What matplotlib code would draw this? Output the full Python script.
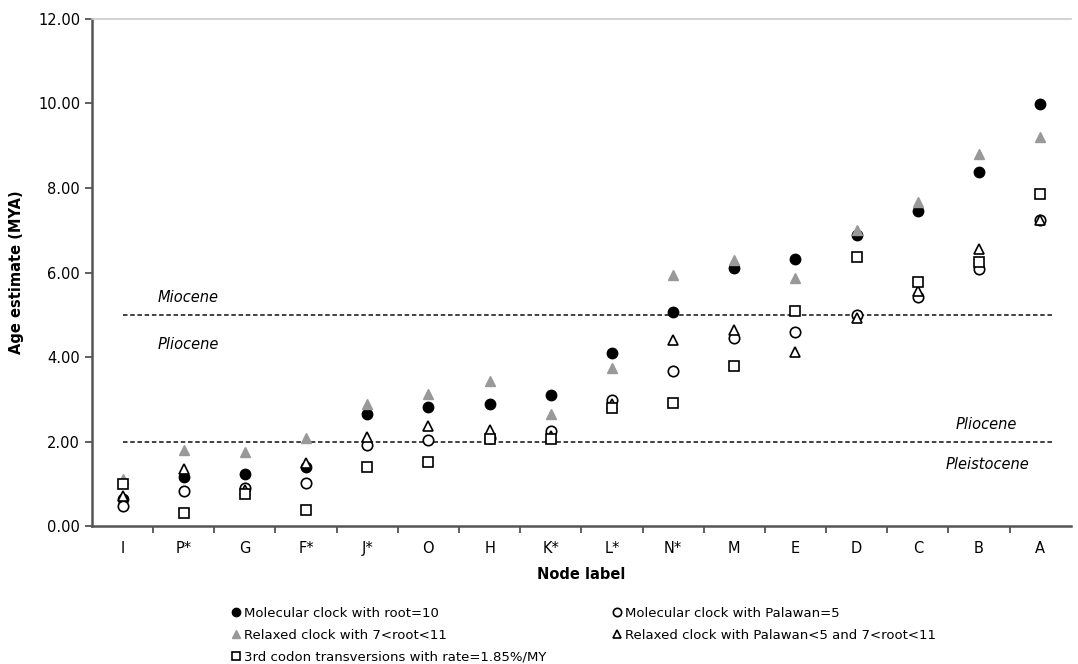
import numpy as np
import matplotlib
matplotlib.use("Agg")
import matplotlib.pyplot as plt
from matplotlib.lines import Line2D

nodes = ["I", "P*", "G", "F*", "J*", "O", "H", "K*", "L*", "N*", "M", "E", "D", "C", "B", "A"]

# age estimates (MYA)
mol_root10 = [0.64, 1.16, 1.24, 1.39, 2.64, 2.82, 2.88, 3.10, 4.10, 5.07, 6.11, 6.32, 6.88, 7.46, 8.39, 9.99]
mol_palawan5 = [0.47, 0.84, 0.90, 1.02, 1.91, 2.03, 2.09, 2.24, 2.98, 3.68, 4.44, 4.59, 5.00, 5.42, 6.09, 7.25]
relaxed_root = [1.11, 1.80, 1.75, 2.09, 2.89, 3.13, 3.43, 2.64, 3.73, 5.93, 6.29, 5.86, 7.01, 7.68, 8.80, 9.20]
relaxed_palawan = [0.72, 1.34, 0.86, 1.50, 2.10, 2.36, 2.27, 2.12, 2.88, 4.41, 4.65, 4.12, 4.93, 5.56, 6.56, 7.25]
codon3 = [0.99, 0.31, 0.76, 0.38, 1.40, 1.51, 2.06, 2.05, 2.80, 2.92, 3.78, 5.08, 6.37, 5.78, 6.26, 7.86]

boundaries = [5.0, 2.0]

fig = plt.figure(figsize=(10.78, 6.64), dpi=100)
ax = fig.add_axes([0.0853, 0.2078, 0.908, 0.7636])

x = np.arange(len(nodes))
ms = 7.5
ax.plot(x, mol_root10, "o", color="black", ms=ms, zorder=3)
ax.plot(x, relaxed_root, "^", color="#999999", mec="#999999", ms=ms, zorder=3)
ax.plot(x, mol_palawan5, "o", mfc="white", mec="black", mew=1.2, ms=ms, zorder=4)
ax.plot(x, relaxed_palawan, "^", mfc="white", mec="black", mew=1.2, ms=ms, zorder=4)
ax.plot(x, codon3, "s", mfc="white", mec="black", mew=1.2, ms=ms - 0.5, zorder=4)

# epoch boundaries
for b in boundaries:
    ax.plot([0.0, 15.2], [b, b], linestyle=(0, (2.5, 1.5)), color="#333333", lw=1.3, zorder=2)

ax.text(0.58, 5.4, "Miocene", style="italic", fontsize=10.5, va="center")
ax.text(0.58, 4.3, "Pliocene", style="italic", fontsize=10.5, va="center")
ax.text(13.62, 2.4, "Pliocene", style="italic", fontsize=10.5, va="center")
ax.text(13.45, 1.45, "Pleistocene", style="italic", fontsize=10.5, va="center")

ax.set_xlim(-0.5, 15.5)
ax.set_ylim(0, 12)
ax.set_yticks(np.arange(0, 13, 2))
ax.set_yticklabels(["%.2f" % v for v in np.arange(0, 13, 2)], fontsize=10.5)
ax.set_xticks(x)
ax.set_xticklabels(nodes, fontsize=10.5)
ax.set_xticks(np.arange(0.5, 15.5, 1), minor=True)
ax.tick_params(axis="x", which="major", length=0, pad=11)
ax.tick_params(axis="x", which="minor", length=5, width=1.2, color="#444444")
ax.tick_params(axis="y", length=5, width=1.2, color="#444444")

for s in ["left", "bottom"]:
    ax.spines[s].set_color("#555555")
    ax.spines[s].set_linewidth(1.8)
ax.spines["right"].set_visible(False)
ax.spines["top"].set_color("#cccccc")
ax.spines["top"].set_linewidth(1.2)

ax.set_xlabel("Node label", fontsize=10.5, fontweight="bold", labelpad=8)
ax.set_ylabel("Age estimate (MYA)", fontsize=10.5, fontweight="bold", labelpad=10)

h1 = Line2D([], [], marker="o", ls="none", color="black", ms=6)
h2 = Line2D([], [], marker="^", ls="none", color="#999999", ms=6)
h3 = Line2D([], [], marker="s", ls="none", mfc="white", mec="black", mew=1.2, ms=5.5)
h4 = Line2D([], [], marker="o", ls="none", mfc="white", mec="black", mew=1.2, ms=6)
h5 = Line2D([], [], marker="^", ls="none", mfc="white", mec="black", mew=1.2, ms=6)

leg_kw = dict(frameon=False, fontsize=9.5, handlelength=0.6, handletextpad=0.3,
              labelspacing=0.68, borderaxespad=0, borderpad=0)
leg1 = fig.legend([h1, h2, h3],
                  ["Molecular clock with root=10", "Relaxed clock with 7<root<11",
                   "3rd codon transversions with rate=1.85%/MY"],
                  loc="upper left", bbox_to_anchor=(0.2157, 0.086), **leg_kw)
leg2 = fig.legend([h4, h5],
                  ["Molecular clock with Palawan=5", "Relaxed clock with Palawan<5 and 7<root<11"],
                  loc="upper left", bbox_to_anchor=(0.5683, 0.086), **leg_kw)

fig.savefig("out.png", dpi=100)
